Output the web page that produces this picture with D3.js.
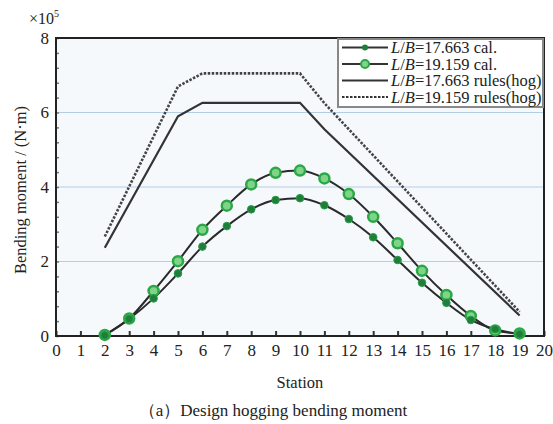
<!DOCTYPE html>
<html>
<head>
<meta charset="utf-8">
<script src="https://cdn.jsdelivr.net/npm/d3@7"></script>
<style>
  body { margin: 0; background: #fff; }
</style>
</head>
<body>
<svg id="chart" width="553" height="424"></svg>
<script>
// values in units of 1e5 N·m
const stations = [2, 3, 4, 5, 6, 7, 8, 9, 10, 11, 12, 13, 14, 15, 16, 17, 18, 19];
const cal17 = [0.02, 0.46, 1.01, 1.68, 2.40, 2.95, 3.40, 3.65, 3.70, 3.51, 3.14, 2.65, 2.04, 1.43, 0.89, 0.43, 0.18, 0.05];
const cal19 = [0.03, 0.47, 1.21, 2.01, 2.85, 3.50, 4.07, 4.38, 4.44, 4.23, 3.81, 3.20, 2.49, 1.75, 1.10, 0.54, 0.15, 0.07];
const rulesStations = [2, 5, 6, 10, 11, 19];
const rules17 = [2.37, 5.90, 6.26, 6.26, 5.55, 0.55];
const rules19 = [2.67, 6.70, 7.05, 7.05, 6.25, 0.65];
const xTicks = d3.range(0, 21);
const yTicks = [0, 2, 4, 6, 8];
const legendLabels = ['=17.663 cal.', '=19.159 cal.', '=17.663 rules(hog)', '=19.159 rules(hog)'];

const serif = '"Liberation Serif", "Times New Roman", serif';
const svg = d3.select('#chart')
  .style('font-family', serif);
const pLeft = 56, pRight = 544, pTop = 38, pBottom = 336;

const xScale = d3.scaleLinear().domain([0, 20]).range([pLeft, pRight]);
const yScale = d3.scaleLinear().domain([0, 8]).range([pBottom, pTop]);

// plot background
svg.append('rect')
  .attr('x', pLeft).attr('y', pTop)
  .attr('width', pRight - pLeft).attr('height', pBottom - pTop)
  .style('fill', '#f6f9fc');

// grid lines
svg.selectAll('line.grid')
  .data([2, 4, 6]).enter().append('line')
  .attr('class', 'grid')
  .attr('x1', pLeft).attr('x2', pRight)
  .attr('y1', d => yScale(d)).attr('y2', d => yScale(d))
  .style('stroke', '#b3cee3')
  .style('stroke-width', '1.2px');

// axes
const xAxis = d3.axisBottom(xScale).tickValues(xTicks).tickSize(-5).tickPadding(8).tickFormat(d3.format('d'));
const yAxis = d3.axisLeft(yScale).tickValues(yTicks).tickSize(0).tickPadding(7);
const yMinor = d3.axisLeft(yScale).tickValues(d3.range(0, 8.01, 0.4)).tickSize(-3).tickFormat('');

const gx = svg.append('g').attr('transform', `translate(0, ${pBottom})`).call(xAxis);
gx.selectAll('text').style('font-family', serif).style('font-size', '17px').style('fill', '#222');
gx.selectAll('line').style('stroke', '#333').style('stroke-width', '2px');
gx.select('.domain').remove();

const gy = svg.append('g').attr('transform', `translate(${pLeft}, 0)`).call(yAxis);
gy.selectAll('text').style('font-family', serif).style('font-size', '17px').style('fill', '#222');
gy.select('.domain').remove();

const gm = svg.append('g').attr('transform', `translate(${pLeft}, 0)`).call(yMinor);
gm.selectAll('line').style('stroke', '#777').style('stroke-width', '1.5px');
gm.select('.domain').remove();

// frame
svg.append('rect')
  .attr('x', pLeft).attr('y', pTop)
  .attr('width', pRight - pLeft).attr('height', pBottom - pTop)
  .style('fill', 'none').style('stroke', '#222').style('stroke-width', '2px');

const line = d3.line().x(d => xScale(d[0])).y(d => yScale(d[1]));

// rules lines
svg.append('path')
  .datum(rulesStations.map((s, i) => [s, rules17[i]]))
  .attr('d', line)
  .style('fill', 'none').style('stroke', '#333').style('stroke-width', '2.2px');

svg.append('path')
  .datum(rulesStations.map((s, i) => [s, rules19[i]]))
  .attr('d', line)
  .style('fill', 'none').style('stroke', '#444').style('stroke-width', '2.6px')
  .style('stroke-dasharray', '2.5,1.5');

// calculated lines
const curve = d3.line().x(d => xScale(d[0])).y(d => yScale(d[1])).curve(d3.curveMonotoneX);
const pts17 = stations.map((s, i) => [s, cal17[i]]);
const pts19 = stations.map((s, i) => [s, cal19[i]]);

svg.append('path').datum(pts17).attr('d', curve)
  .style('fill', 'none').style('stroke', '#2a2a2a').style('stroke-width', '2px');
svg.append('path').datum(pts19).attr('d', curve)
  .style('fill', 'none').style('stroke', '#2a2a2a').style('stroke-width', '2px');

svg.selectAll('circle.p19')
  .data(pts19).enter().append('circle')
  .attr('class', 'p19')
  .attr('cx', d => xScale(d[0])).attr('cy', d => yScale(d[1]))
  .attr('r', 5)
  .style('fill', '#7fd48a').style('stroke', '#2aa845').style('stroke-width', '2.5px');

svg.selectAll('circle.p17')
  .data(pts17).enter().append('circle')
  .attr('class', 'p17')
  .attr('cx', d => xScale(d[0])).attr('cy', d => yScale(d[1]))
  .attr('r', 3.8)
  .style('fill', '#1f7f3a').style('stroke', '#2a9a48').style('stroke-width', '1px');

// legend
const lg = svg.append('g').attr('transform', 'translate(338, 39)');
lg.append('rect')
  .attr('width', 205).attr('height', 68)
  .style('fill', '#fff').style('stroke', '#888').style('stroke-width', '2px');

lg.selectAll('g.item')
  .data(legendLabels).enter().append('g')
  .attr('class', 'item')
  .attr('transform', (d, i) => `translate(0, ${8.5 + i * 16.5})`)
  .each(function (d, i) {
    const g = d3.select(this);
    g.append('line')
      .attr('x1', 4).attr('x2', 50).attr('y1', 0).attr('y2', 0)
      .style('stroke', '#333')
      .style('stroke-width', i === 3 ? '2px' : '2.2px')
      .style('stroke-dasharray', i === 3 ? '2.5,1.5' : null);
    if (i === 0) {
      g.append('circle').attr('cx', 27).attr('cy', 0).attr('r', 3)
        .style('fill', '#1f7f3a');
    }
    if (i === 1) {
      g.append('circle').attr('cx', 27).attr('cy', 0).attr('r', 4)
        .style('fill', '#7fd48a').style('stroke', '#2aa845').style('stroke-width', '2px');
    }
    const t = g.append('text').attr('x', 53).attr('y', 5.5)
      .style('font-family', serif).style('font-size', '16.5px').style('fill', '#222');
    t.append('tspan').style('font-style', 'italic').text('L');
    t.append('tspan').text('/');
    t.append('tspan').style('font-style', 'italic').text('B');
    t.append('tspan').text(d);
  });

// exponent label
const ex = svg.append('text').attr('x', 29).attr('y', 24)
  .style('font-family', serif).style('font-size', '16px').style('fill', '#222');
ex.append('tspan').text('×10');
ex.append('tspan').attr('dy', -7).style('font-size', '10px').text('5');

// axis titles
svg.append('text')
  .attr('transform', 'translate(26, 190) rotate(-90)')
  .attr('text-anchor', 'middle')
  .style('font-family', serif).style('font-size', '16.5px').style('fill', '#222')
  .text('Bending moment / (N·m)');

svg.append('text')
  .attr('x', 300).attr('y', 388)
  .attr('text-anchor', 'middle')
  .style('font-family', serif).style('font-size', '16.5px').style('fill', '#222')
  .text('Station');

svg.append('text')
  .attr('x', 273).attr('y', 416)
  .attr('text-anchor', 'middle')
  .style('font-family', serif).style('font-size', '17px').style('fill', '#222')
  .text('（a）Design hogging bending moment');
</script>
</body>
</html>
